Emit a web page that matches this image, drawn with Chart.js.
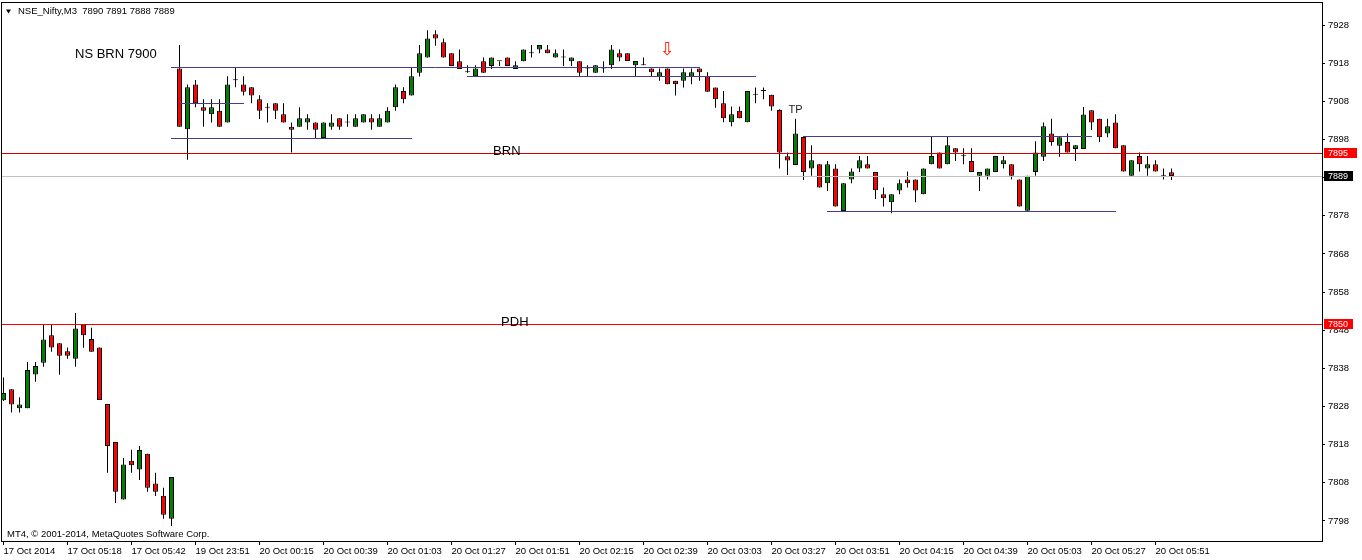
<!DOCTYPE html>
<html>
<head>
<meta charset="utf-8">
<title>NSE_Nifty,M3</title>
<script src="https://cdn.jsdelivr.net/npm/chart.js@4.4.1/dist/chart.umd.min.js"></script>
<style>
  html, body { margin: 0; padding: 0; background: #fff; overflow: hidden; }
  canvas { display: block; }
</style>
</head>
<body>
<canvas id="mt4Chart" width="1362" height="560"></canvas>
<script>
// ---- data (M3 bars, left to right) ----
const symbol = 'NSE_Nifty,M3';

const xTickLabels = ['17 Oct 2014', '17 Oct 05:18', '17 Oct 05:42', '19 Oct 23:51', '20 Oct 00:15',
  '20 Oct 00:39', '20 Oct 01:03', '20 Oct 01:27', '20 Oct 01:51', '20 Oct 02:15', '20 Oct 02:39',
  '20 Oct 03:03', '20 Oct 03:27', '20 Oct 03:51', '20 Oct 04:15', '20 Oct 04:39', '20 Oct 05:03',
  '20 Oct 05:27', '20 Oct 05:51'];
const xTickBars = [0, 8, 16, 24, 32, 40, 48, 56, 64, 72, 80, 88, 96, 104, 112, 120, 128, 136, 144];

const yTickLabels = ['7928', '7918', '7908', '7898', '7888', '7878', '7868', '7858', '7848',
  '7838', '7828', '7818', '7808', '7798'];
const yTickTop = 7928.76;   // MT4 puts its price labels at fixed pixel steps
const yTickStep = 10.04;

const opens = [
  7830.0, 7832.9, 7827.9, 7827.9, 7836.8, 7839.9, 7847.1, 7845.0, 7842.9, 7840.9,
  7849.9, 7846.1, 7843.9, 7829.0, 7819.0, 7803.9, 7814.1, 7811.8, 7815.9, 7808.1,
  7804.9, 7798.8,
  7917.3, 7901.3, 7913.1, 7907.1, 7905.3, 7906.2, 7903.1, 7914.3, 7913.1, 7912.4,
  7909.2, 7907.1, 7908.2, 7905.3, 7902.0, 7902.0, 7903.1, 7903.1, 7899.0, 7902.0,
  7904.2, 7903.1, 7902.0, 7903.1, 7904.2, 7902.0, 7903.1, 7907.1, 7911.4, 7910.2,
  7916.2, 7920.2, 7926.3, 7924.2, 7921.3, 7919.2, 7916.3, 7915.3, 7919.2, 7918.0,
  7919.2, 7920.2, 7917.2, 7919.2, 7921.3, 7922.3, 7922.3, 7920.2, 7920.2, 7919.2,
  7919.2, 7917.3, 7916.2, 7917.3, 7918.2, 7921.3, 7921.3, 7918.2, 7918.2, 7917.3,
  7915.2, 7917.3, 7914.1, 7914.1, 7915.2, 7917.3, 7915.2, 7912.3, 7908.2, 7903.2,
  7906.2, 7903.2, 7910.4, 7911.4, 7910.4,
  7906.4, 7894.2, 7891.9, 7899.3, 7891.0, 7892.1, 7887.1, 7891.0, 7879.8, 7888.1,
  7891.0, 7892.1, 7890.1, 7884.2, 7882.1, 7885.2, 7888.1, 7888.1, 7884.2, 7892.1,
  7895.2, 7892.1, 7896.3, 7894.2, 7893.0, 7889.1, 7889.1, 7890.1, 7892.1, 7892.1,
  7888.1, 7879.9, 7890.1, 7894.1, 7900.2, 7897.0, 7898.0, 7896.1, 7896.1, 7906.3,
  7904.1, 7900.2, 7903.1, 7897.1, 7889.1, 7894.3, 7891.0, 7892.1, 7889.1, 7890
];
const highs = [
  7836.0, 7833.0, 7830.8, 7840.1, 7840.1, 7849.8, 7849.8, 7845.0, 7843.9, 7853.0,
  7849.9, 7849.1, 7843.9, 7829.0, 7819.0, 7814.8, 7817.0, 7818.0, 7815.9, 7810.9,
  7807.0, 7809.8,
  7923.5, 7913.1, 7914.3, 7909.2, 7909.2, 7909.2, 7915.3, 7917.5, 7915.3, 7912.4,
  7910.3, 7908.2, 7908.2, 7908.2, 7903.1, 7907.1, 7905.3, 7903.1, 7903.1, 7905.3,
  7904.2, 7905.3, 7905.3, 7905.3, 7905.3, 7905.3, 7907.1, 7913.1, 7912.4, 7917.5,
  7923.5, 7927.4, 7927.4, 7925.2, 7921.3, 7922.3, 7918.2, 7918.2, 7920.2, 7920.2,
  7919.2, 7920.2, 7919.2, 7922.3, 7923.5, 7923.5, 7923.5, 7922.3, 7922.3, 7920.2,
  7919.2, 7918.2, 7918.2, 7919.2, 7923.5, 7922.3, 7921.3, 7919.3, 7920.2, 7917.3,
  7917.3, 7917.3, 7914.1, 7917.3, 7917.3, 7917.3, 7916.3, 7912.3, 7911.4, 7907.3,
  7907.3, 7911.4, 7912.3, 7912.3, 7910.4,
  7906.6, 7895.2, 7904.1, 7899.3, 7897.1, 7892.1, 7893.0, 7892.1, 7887.1, 7891.0,
  7894.3, 7894.3, 7890.1, 7886.0, 7884.2, 7888.1, 7890.2, 7888.1, 7891.0, 7899.3,
  7895.2, 7899.3, 7896.3, 7896.3, 7896.3, 7890.1, 7891.0, 7894.3, 7894.3, 7892.1,
  7888.1, 7889.1, 7898.2, 7903.1, 7904.1, 7899.2, 7900.2, 7897.1, 7907.2, 7906.3,
  7904.1, 7904.1, 7905.3, 7897.1, 7893.2, 7895.2, 7894.3, 7893.2, 7891.0, 7891
];
const lows = [
  7829.8, 7826.8, 7826.8, 7827.9, 7834.9, 7838.8, 7842.8, 7836.7, 7840.9, 7838.8,
  7843.8, 7842.8, 7830.1, 7810.9, 7803.0, 7803.9, 7810.9, 7809.0, 7805.9, 7804.8,
  7798.8, 7796.9,
  7902.0, 7893.3, 7907.1, 7902.0, 7903.1, 7902.0, 7903.1, 7912.4, 7910.2, 7908.2,
  7904.0, 7903.1, 7904.0, 7903.1, 7895.2, 7902.0, 7901.2, 7899.0, 7899.0, 7901.2,
  7901.2, 7902.0, 7902.0, 7903.1, 7901.2, 7902.0, 7903.1, 7906.2, 7908.2, 7910.2,
  7915.2, 7920.2, 7923.3, 7920.2, 7918.0, 7917.2, 7916.2, 7915.3, 7916.2, 7917.2,
  7918.0, 7918.0, 7917.2, 7919.2, 7920.2, 7921.3, 7921.3, 7920.2, 7918.0, 7918.0,
  7915.3, 7915.3, 7916.2, 7916.2, 7917.2, 7919.2, 7919.3, 7915.2, 7918.2, 7915.2,
  7914.1, 7913.2, 7910.2, 7912.3, 7913.2, 7914.1, 7911.2, 7907.0, 7903.2, 7902.1,
  7904.2, 7903.2, 7908.2, 7909.2, 7906.2,
  7891.0, 7889.3, 7891.9, 7888.0, 7889.1, 7886.0, 7885.1, 7881.0, 7879.8, 7887.1,
  7890.1, 7891.0, 7883.0, 7881.0, 7879.2, 7884.2, 7886.0, 7882.1, 7884.2, 7892.1,
  7891.0, 7892.1, 7893.0, 7892.1, 7890.1, 7885.1, 7888.1, 7890.1, 7891.0, 7888.1,
  7881.0, 7879.9, 7889.1, 7893.0, 7897.0, 7894.1, 7895.2, 7893.0, 7896.1, 7901.1,
  7898.0, 7899.2, 7896.3, 7890.2, 7889.1, 7890.2, 7889.1, 7890.2, 7888.1, 7888
];
const closes = [
  7831.9, 7828.9, 7828.9, 7838.0, 7839.0, 7846.0, 7843.9, 7841.7, 7841.7, 7848.9,
  7847.1, 7842.8, 7830.1, 7818.0, 7805.9, 7813.1, 7812.9, 7816.9, 7807.0, 7805.9,
  7799.9, 7809.8,
  7902.0, 7912.4, 7908.2, 7906.2, 7907.1, 7902.0, 7913.1, 7914.2, 7911.2, 7910.2,
  7906.2, 7907.0, 7906.2, 7903.1, 7901.2, 7904.2, 7904.2, 7901.2, 7903.1, 7903.1,
  7902.0, 7903.1, 7904.2, 7905.3, 7903.1, 7904.2, 7906.2, 7912.4, 7909.2, 7915.3,
  7921.3, 7925.2, 7925.2, 7920.2, 7918.0, 7917.2, 7916.3, 7917.3, 7916.2, 7920.2,
  7919.2, 7918.0, 7918.2, 7922.3, 7921.3, 7923.5, 7921.3, 7921.3, 7920.2, 7920.2,
  7916.2, 7917.3, 7918.2, 7917.3, 7922.3, 7920.2, 7919.3, 7919.3, 7918.2, 7916.3,
  7916.3, 7913.2, 7913.2, 7916.3, 7916.3, 7916.3, 7911.2, 7909.2, 7904.2, 7905.3,
  7904.2, 7911.4, 7910.4, 7911.4, 7907.3,
  7895.2, 7893.1, 7900.2, 7890.1, 7893.2, 7886.0, 7892.1, 7881.0, 7887.1, 7890.2,
  7893.2, 7891.0, 7885.3, 7883.2, 7884.2, 7887.1, 7887.1, 7885.2, 7891.0, 7894.3,
  7891.0, 7897.1, 7895.2, 7894.2, 7890.1, 7890.1, 7891.0, 7894.3, 7893.2, 7889.1,
  7881.0, 7889.1, 7895.2, 7902.1, 7898.0, 7899.2, 7895.2, 7897.1, 7905.2, 7903.1,
  7899.2, 7902.1, 7896.3, 7890.2, 7893.2, 7892.1, 7892.1, 7890.2, 7889.1, 7889
];

// horizontal levels (BRN, PDH, current bid)
const levelPrices = [7895, 7850, 7889];
const levelNames = ['BRN', 'PDH', ''];

// trend lines: from bar, to bar, at price
const trendStartBars = [21, 58, 22, 21, 100, 103];
const trendEndBars = [87, 94, 30, 51, 136, 139];
const trendPrices = [7917.5, 7915.2, 7908.2, 7898.9, 7899.5, 7879.8];

// text objects
const noteTexts = ['NS BRN 7900', 'TP'];
const noteBars = [8.94, 99];
const notePrices = [7921.1, 7906.4];
const arrowBar = 83;
const arrowPrice = 7922.0;

// -------------------------------------------------------
Chart.defaults.font.family = "'Liberation Sans', Arial, sans-serif";
Chart.defaults.color = '#000';

const colorUp = '#008000';
const colorDown = '#ff0000';
const colorTrend = '#483d8b';

const bodies = opens.map((o, i) => ({ x: i, y: [o, closes[i]] }));
const wicks = highs.map((h, i) => ({ x: i, y: [lows[i], h] }));
const bodyColors = opens.map((o, i) => (closes[i] >= o ? colorUp : colorDown));

const mt4Overlay = {
    id: 'mt4Overlay',
    afterDraw(chart) {
        const { ctx, chartArea: a, scales: { x, y } } = chart;
        const row = p => Math.floor(y.getPixelForValue(p)) + 0.5;
        ctx.save();

        // frame
        ctx.strokeStyle = '#000';
        ctx.lineWidth = 1;
        ctx.strokeRect(a.left - 0.5, a.top - 0.5, a.right - a.left + 1, a.bottom - a.top + 1);

        ctx.save();
        ctx.beginPath();
        ctx.rect(a.left, a.top, a.right - a.left, a.bottom - a.top);
        ctx.clip();

        // horizontal levels
        const levelColors = ['#d40000', '#ff0000', '#c0c0c0'];
        levelPrices.forEach((p, k) => {
            ctx.strokeStyle = levelColors[k];
            ctx.beginPath();
            ctx.moveTo(a.left, row(p));
            ctx.lineTo(a.right, row(p));
            ctx.stroke();
        });

        // trend lines
        ctx.strokeStyle = colorTrend;
        trendPrices.forEach((p, k) => {
            ctx.beginPath();
            ctx.moveTo(Math.floor(x.getPixelForValue(trendStartBars[k])), row(p));
            ctx.lineTo(Math.floor(x.getPixelForValue(trendEndBars[k])) + 1, row(p));
            ctx.stroke();
        });

        // level names just above their lines
        ctx.fillStyle = '#000';
        ctx.font = "13px 'Liberation Sans', Arial, sans-serif";
        ctx.textBaseline = 'middle';
        ctx.textAlign = 'left';
        ctx.fillText(levelNames[0], x.getPixelForValue(61.2), y.getPixelForValue(7895.6));
        ctx.fillText(levelNames[1], x.getPixelForValue(62.2), y.getPixelForValue(7850.6));

        // notes
        ctx.fillText(noteTexts[0], x.getPixelForValue(noteBars[0]), y.getPixelForValue(notePrices[0]));
        ctx.font = "11px 'Liberation Sans', Arial, sans-serif";
        ctx.fillStyle = '#222';
        ctx.textAlign = 'center';
        ctx.fillText(noteTexts[1], x.getPixelForValue(noteBars[1]), y.getPixelForValue(notePrices[1]));

        // sell arrow
        ctx.font = "18px 'DejaVu Sans', sans-serif";
        ctx.fillStyle = '#ff2000';
        ctx.fillText('\u21E9', x.getPixelForValue(arrowBar), y.getPixelForValue(arrowPrice));
        ctx.restore();

        // price boxes on the axis
        const boxFill = ['#ff0000', '#ff0000', '#000000'];
        const boxWidth = [33, 29, 29];
        ctx.font = "9px 'Liberation Sans', Arial, sans-serif";
        ctx.textAlign = 'left';
        ctx.textBaseline = 'middle';
        levelPrices.forEach((p, k) => {
            const cy = y.getPixelForValue(p);
            ctx.fillStyle = boxFill[k];
            ctx.fillRect(a.right + 2, Math.round(cy) - 5, boxWidth[k], 10);
            ctx.fillStyle = '#fff';
            ctx.fillText(String(p), a.right + 6, cy);
        });

        // header + copyright
        const last = opens.length - 1;
        ctx.fillStyle = '#000';
        ctx.beginPath();
        ctx.moveTo(6, 9.5);
        ctx.lineTo(11, 9.5);
        ctx.lineTo(8.5, 13.5);
        ctx.closePath();
        ctx.fill();
        ctx.font = "9.5px 'Liberation Sans', Arial, sans-serif";
        ctx.fillText(symbol + '  ' + [opens[last], highs[last], lows[last], closes[last]].join(' '), 18, 11.5);
        ctx.fillText('MT4, \u00A9 2001-2014, MetaQuotes Software Corp.', 7, 534);
        ctx.restore();
    }
};

new Chart(document.getElementById('mt4Chart'), {
    type: 'bar',
    data: {
        datasets: [{
            data: bodies,
            backgroundColor: bodyColors,
            borderColor: '#000',
            borderWidth: 1,
            borderSkipped: false,
            grouped: false,
            barThickness: 5,
            minBarLength: 1,
            inflateAmount: 0
        }, {
            data: wicks,
            backgroundColor: '#000',
            borderWidth: 0,
            grouped: false,
            barThickness: 1,
            minBarLength: 1,
            inflateAmount: 0
        }]
    },
    options: {
        responsive: false,
        animation: false,
        devicePixelRatio: 1,
        events: [],
        layout: { padding: { left: 2, top: 3, right: 0, bottom: 0 } },
        plugins: {
            legend: { display: false },
            tooltip: { enabled: false }
        },
        scales: {
            x: {
                type: 'linear',
                position: 'bottom',
                min: -0.1875,
                max: 164.8125,
                offset: false,
                border: { display: false },
                grid: { offset: false, drawOnChartArea: false, tickLength: 4, color: '#000' },
                ticks: {
                    autoSkip: false,
                    maxRotation: 0,
                    minRotation: 0,
                    align: 'start',
                    padding: 1,
                    font: { size: 9.5 },
                    callback: (v, i) => xTickLabels[i]
                },
                afterBuildTicks: s => { s.ticks = xTickBars.map(b => ({ value: b })); },
                afterFit: s => { s.height = 19; s.paddingLeft = 0; s.paddingRight = 0; }
            },
            y: {
                type: 'linear',
                position: 'right',
                min: 7792.97,
                max: 7934.55,
                beginAtZero: false,
                border: { display: false },
                grid: { drawOnChartArea: false, tickLength: 3, color: '#000' },
                ticks: {
                    autoSkip: false,
                    padding: 3,
                    font: { size: 9.5 },
                    callback: (v, i) => yTickLabels[i]
                },
                afterBuildTicks: s => { s.ticks = yTickLabels.map((l, k) => ({ value: yTickTop - yTickStep * k })); },
                afterFit: s => { s.width = 40; s.paddingTop = 0; s.paddingBottom = 0; }
            }
        }
    },
    plugins: [mt4Overlay]
});
</script>
</body>
</html>
